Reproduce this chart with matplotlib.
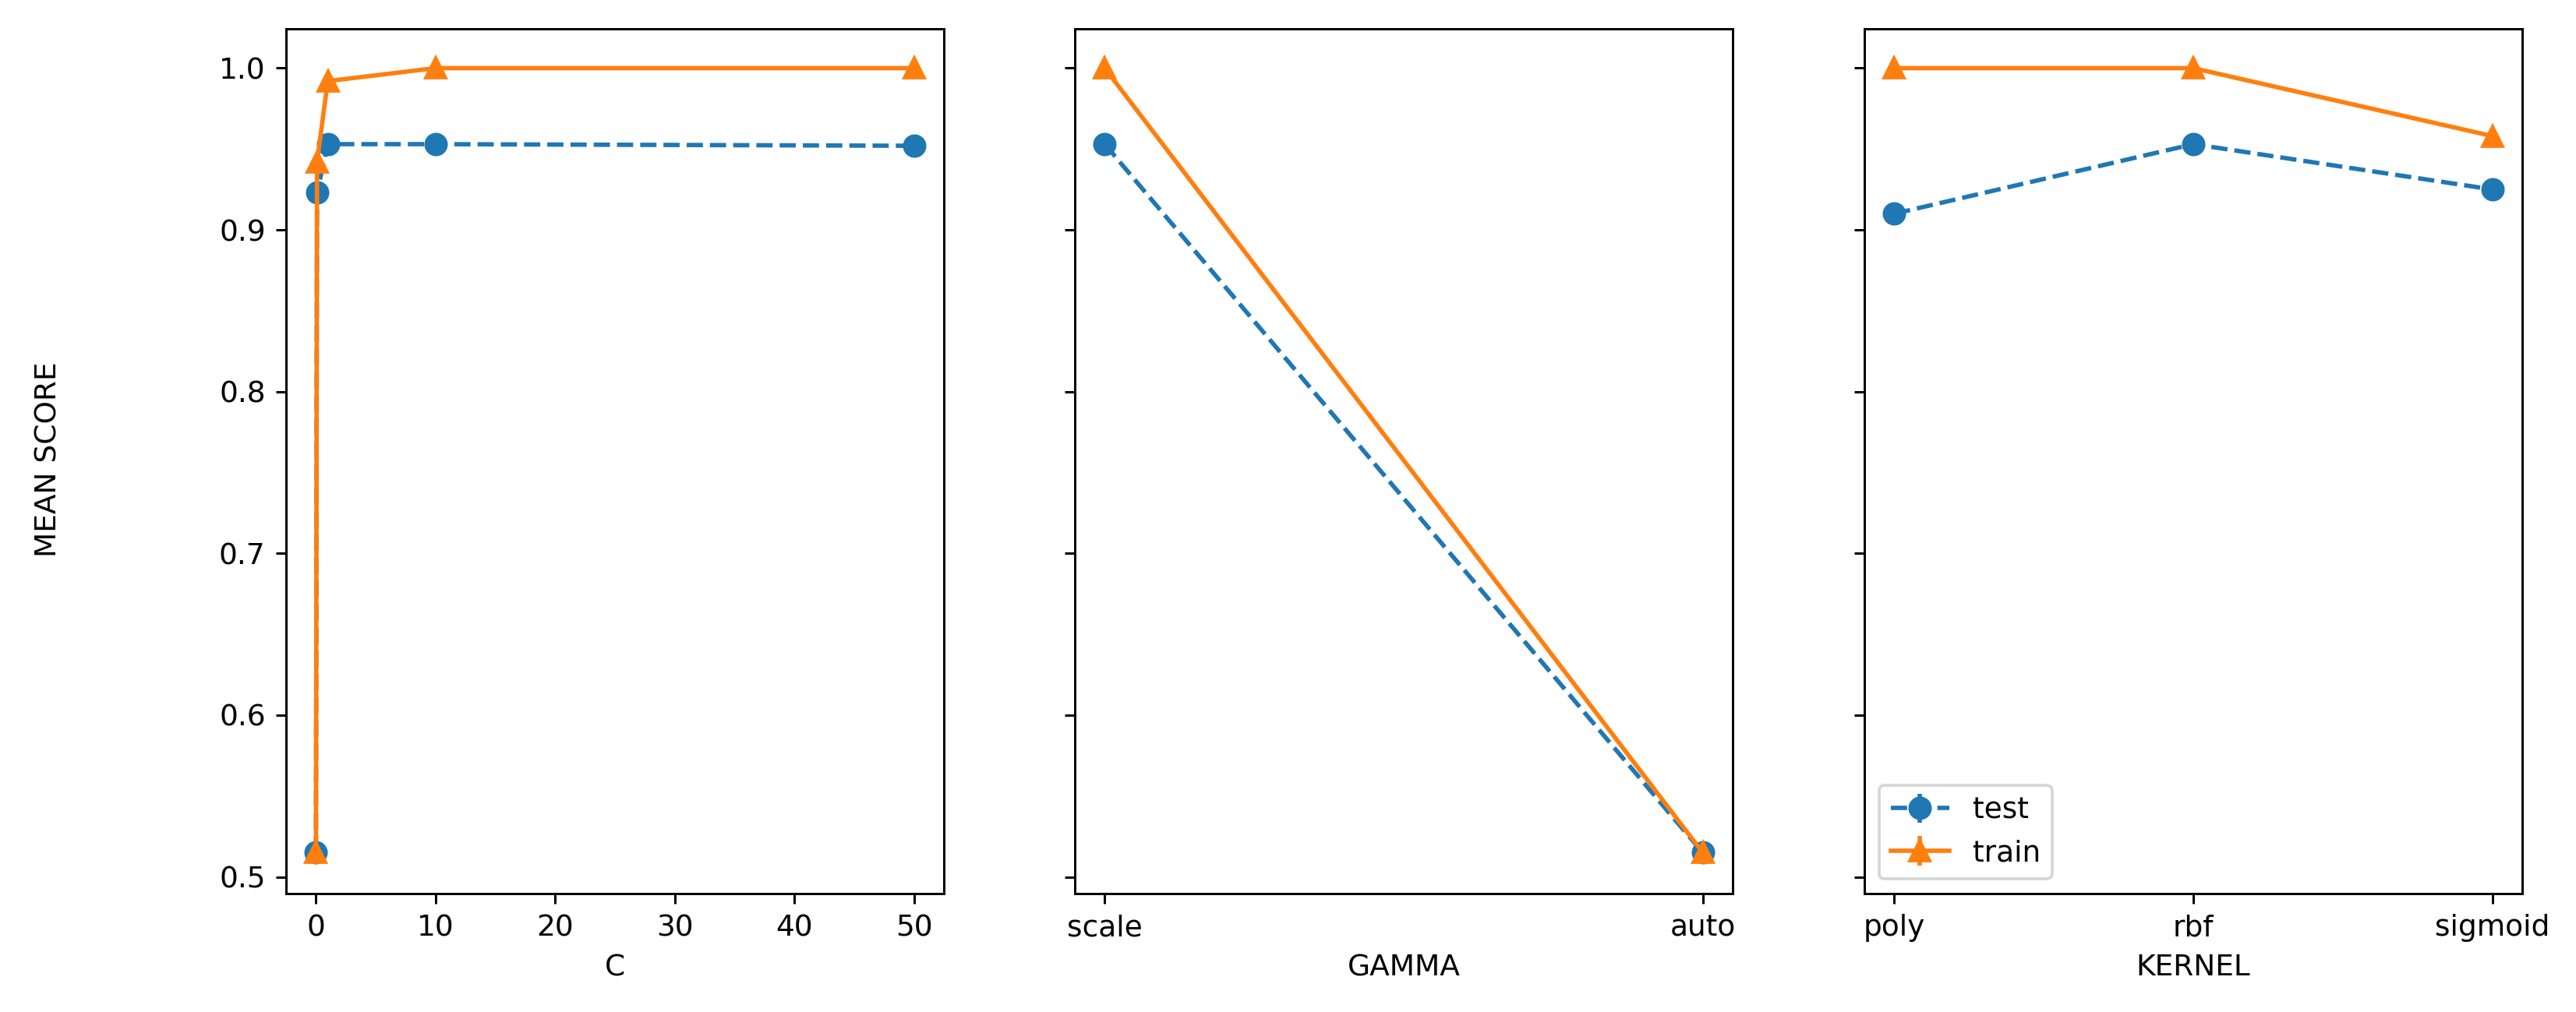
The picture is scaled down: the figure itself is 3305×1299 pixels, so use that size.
import numpy as np
import matplotlib
matplotlib.use('Agg')
import matplotlib.pyplot as plt

# Valores de los parametros
c_vals = [0.01, 0.1, 1, 10, 50]
gamma_vals = ['scale', 'auto']
kernel_vals = ['poly', 'rbf', 'sigmoid']

# Puntajes medios (test / train) y desviaciones
c_test = [0.515, 0.923, 0.953, 0.953, 0.952]
c_train = [0.515, 0.942, 0.992, 1.0, 1.0]
c_test_err = [0.001, 0.003, 0.002, 0.002, 0.002]
c_train_err = [0.001, 0.002, 0.001, 0.0, 0.0]

gamma_test = [0.953, 0.515]
gamma_train = [1.0, 0.515]
gamma_test_err = [0.002, 0.001]
gamma_train_err = [0.0, 0.001]

kernel_test = [0.910, 0.953, 0.925]
kernel_train = [1.0, 1.0, 0.958]
kernel_test_err = [0.003, 0.002, 0.002]
kernel_train_err = [0.0, 0.0, 0.001]

DPI = 270
W, H = 3306, 1299
fig = plt.figure(figsize=(W / DPI, H / DPI), dpi=DPI)

# posiciones de los ejes en pixeles
lefts = [367, 1379, 2392]
width = 844
bottom, top = 1147, 37

axes = []
for i, l in enumerate(lefts):
    kw = {}
    if i > 0:
        kw['sharey'] = axes[0]
    ax = fig.add_axes([l / W, 1 - bottom / H, width / W, (bottom - top) / H], **kw)
    axes.append(ax)

datos = [
    (c_vals, c_test, c_test_err, c_train, c_train_err, 'C'),
    (gamma_vals, gamma_test, gamma_test_err, gamma_train, gamma_train_err, 'GAMMA'),
    (kernel_vals, kernel_test, kernel_test_err, kernel_train, kernel_train_err, 'KERNEL'),
]

for ax, (x, te, te_err, tr, tr_err, nombre) in zip(axes, datos):
    ax.errorbar(x, te, te_err, linestyle='--', marker='o', markersize=7, label='test')
    ax.errorbar(x, tr, tr_err, linestyle='-', marker='^', markersize=7, label='train')
    ax.set_xlabel(nombre)

for ax in axes[1:]:
    ax.tick_params(labelleft=False)

axes[2].legend(loc='lower left')
fig.text(63 / W, 1 - 590 / H, 'MEAN SCORE', rotation=90, ha='center', va='center')

fig.savefig('out.png', dpi=DPI)
